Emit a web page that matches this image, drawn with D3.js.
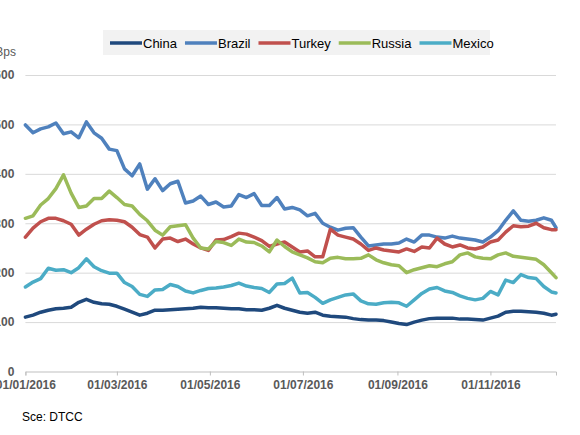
<!DOCTYPE html>
<html>
<head>
<meta charset="utf-8">
<script src="https://cdn.jsdelivr.net/npm/d3@7"></script>
<style>
  body { margin: 0; background: #fff; }
  svg { display: block; font-family: "Liberation Sans", Arial, sans-serif; }
</style>
</head>
<body>
<svg id="chart" width="580" height="435"></svg>
<script>
// sample dates (every 5 days)
var dates = [
  '2016-01-01','2016-01-06','2016-01-11','2016-01-16','2016-01-21','2016-01-26','2016-01-31',
  '2016-02-05','2016-02-10','2016-02-15','2016-02-20','2016-02-25',
  '2016-03-01','2016-03-06','2016-03-11','2016-03-16','2016-03-21','2016-03-26','2016-03-31',
  '2016-04-05','2016-04-10','2016-04-15','2016-04-20','2016-04-25','2016-04-30',
  '2016-05-05','2016-05-10','2016-05-15','2016-05-20','2016-05-25','2016-05-30',
  '2016-06-04','2016-06-09','2016-06-14','2016-06-19','2016-06-24','2016-06-29',
  '2016-07-04','2016-07-09','2016-07-14','2016-07-19','2016-07-24','2016-07-29',
  '2016-08-03','2016-08-08','2016-08-13','2016-08-18','2016-08-23','2016-08-28',
  '2016-09-02','2016-09-07','2016-09-12','2016-09-17','2016-09-22','2016-09-27',
  '2016-10-02','2016-10-07','2016-10-12','2016-10-17','2016-10-22','2016-10-27',
  '2016-11-01','2016-11-06','2016-11-11','2016-11-16','2016-11-21','2016-11-26',
  '2016-12-01','2016-12-06','2016-12-11','2016-12-14'
];

var china = [
  110,114,120,124,127,128,130,
  140,146,140,137,136,
  132,126,120,114,118,124,124,
  125,126,127,128,130,129,
  129,128,127,127,125,125,
  124,128,134,128,124,120,
  118,120,114,112,111,110,
  107,105,104,104,103,100,
  97,95,100,104,107,108,
  108,108,106,106,105,104,
  108,112,120,122,122,121,
  120,118,114,116
];
var brazil = [
  499,483,491,495,503,481,485,
  473,505,483,472,450,
  447,410,396,420,369,390,366,
  380,385,341,345,355,338,
  343,333,335,358,352,360,
  336,336,352,329,332,327,
  315,320,300,292,286,290,
  291,272,254,256,258,258,
  260,268,262,276,276,272,
  270,274,270,268,266,262,
  272,285,306,325,306,304,
  306,311,306,291
];
var turkey = [
  272,290,303,310,310,305,298,
  276,288,298,305,307,
  306,303,292,277,272,250,268,
  270,263,268,258,250,245,
  266,267,273,280,278,272,
  265,253,258,262,252,242,
  244,232,232,288,276,272,
  268,258,245,250,246,244,
  242,248,243,252,250,270,
  258,252,256,250,248,252,
  262,266,282,295,293,294,
  300,291,287,287
];
var russia = [
  310,315,337,350,370,398,361,
  332,335,350,350,365,
  352,338,335,318,305,286,276,
  293,295,297,270,250,248,
  263,261,255,268,262,261,
  254,242,266,253,242,236,
  230,222,220,229,231,228,
  228,229,236,226,220,216,
  214,200,206,210,214,212,
  218,222,236,240,232,229,
  228,236,240,233,231,229,
  227,216,200,190
];
var mexico = [
  171,181,188,209,205,206,200,
  210,228,212,204,199,
  199,180,172,156,152,165,166,
  176,172,163,159,164,168,
  169,171,174,179,173,170,
  168,160,177,178,189,159,
  160,150,138,145,150,155,
  157,143,137,136,139,140,
  139,132,145,158,167,170,
  163,160,153,148,145,148,
  162,155,185,180,196,190,
  188,172,161,159
];

var seriesNames = ['China', 'Brazil', 'Turkey', 'Russia', 'Mexico'];
var seriesValues = [china, brazil, turkey, russia, mexico];
var seriesColors = ['#1f497d', '#4f81bd', '#c0504d', '#9bbb59', '#4bacc6'];

var yTicks = [0, 100, 200, 300, 400, 500, 600];
var xTicks = ['2016-01-01', '2016-03-01', '2016-05-01', '2016-07-01', '2016-09-01', '2016-11-01'];

var parse = d3.timeParse('%Y-%m-%d');
var svg = d3.select('#chart');

var plotLeft = 25.4, plotRight = 556, plotTop = 75, plotBottom = 371.5;

var x = d3.scaleTime()
  .domain([parse(dates[0]), parse(dates[dates.length - 1])])
  .range([plotLeft, plotRight]);
var y = d3.scaleLinear().domain([0, 600]).range([plotBottom, plotTop]);

// gridlines + y labels
var yAxis = svg.append('g')
  .attr('transform', 'translate(' + plotLeft + ',0)')
  .call(d3.axisLeft(y).tickValues(yTicks).tickSize(-(plotRight - plotLeft)).tickPadding(11));
yAxis.select('.domain').remove();
yAxis.selectAll('.tick line')
  .attr('stroke', '#d9d9d9')
  .attr('stroke-width', 1)
  .filter(function(d) { return d === 0; }).remove();
yAxis.selectAll('.tick text')
  .attr('fill', '#595959')
  .style('font-size', '12px')
  .style('font-weight', 'bold')
  .style('font-family', '"Liberation Sans", Arial, sans-serif');

// x axis
var xAxis = svg.append('g')
  .attr('transform', 'translate(0,' + plotBottom + ')')
  .call(d3.axisBottom(x)
    .tickValues(xTicks.map(parse))
    .tickFormat(d3.timeFormat('%d/%m/%Y'))
    .tickSizeOuter(0)
    .tickSize(4)
    .tickPadding(5));
xAxis.select('.domain').attr('stroke', '#bfbfbf');
xAxis.selectAll('.tick line').attr('stroke', '#bfbfbf');
xAxis.selectAll('.tick text')
  .attr('fill', '#595959')
  .style('font-size', '12px')
  .style('font-weight', 'bold')
  .style('font-family', '"Liberation Sans", Arial, sans-serif');

svg.append('text')
  .attr('x', 16).attr('y', 56)
  .attr('text-anchor', 'end')
  .attr('fill', '#595959')
  .style('font-size', '12px')
  .text('Bps');

// series lines
var line = d3.line()
  .x(function(d, i) { return x(parse(dates[i])); })
  .y(function(d) { return y(d); });

svg.append('g').selectAll('path')
  .data(seriesValues)
  .enter().append('path')
  .attr('fill', 'none')
  .attr('stroke', function(d, i) { return seriesColors[i]; })
  .attr('stroke-width', 3.5)
  .attr('stroke-linejoin', 'round')
  .attr('stroke-linecap', 'round')
  .attr('d', line);

// legend
var legend = svg.append('g');
legend.append('rect')
  .attr('x', 103).attr('y', 30)
  .attr('width', 387).attr('height', 25)
  .attr('fill', '#f2f2f2');
var lx = 110;
seriesNames.forEach(function(name, i) {
  legend.append('line')
    .attr('x1', lx).attr('x2', lx + 32)
    .attr('y1', 43).attr('y2', 43)
    .attr('stroke', seriesColors[i])
    .attr('stroke-width', 3.5);
  var t = legend.append('text')
    .attr('x', lx + 33).attr('y', 47.5)
    .attr('fill', '#000')
    .style('font-size', '13px')
    .text(name);
  lx += 33 + t.node().getComputedTextLength() + 8;
});

svg.append('text')
  .attr('x', 22).attr('y', 421)
  .attr('fill', '#000')
  .style('font-size', '12px')
  .text('Sce: DTCC');
</script>
</body>
</html>
